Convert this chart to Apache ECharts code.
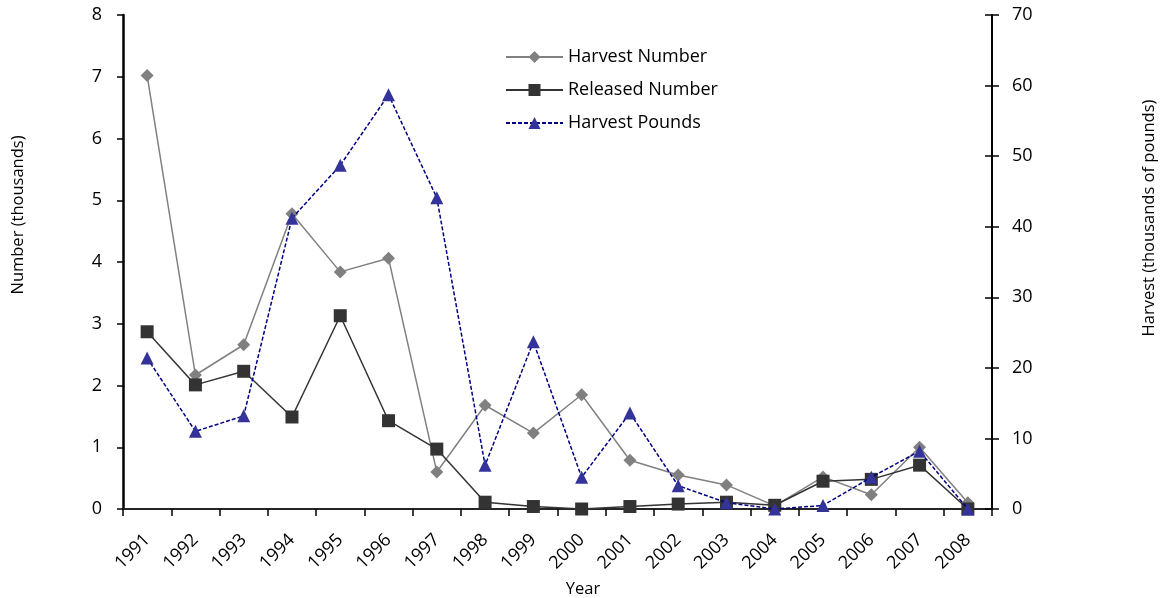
<!DOCTYPE html>
<html>
<head>
<meta charset="utf-8">
<title>Harvest and Release, 1991-2008</title>
<script src="https://cdn.jsdelivr.net/npm/echarts@6/dist/echarts.min.js"></script>
<style>
  html, body { margin: 0; padding: 0; background: #ffffff; }
  #chart { width: 1166px; height: 598px; }
</style>
</head>
<body>
<div id="chart"></div>
<script>
// Years on the category axis
const years = ['1991','1992','1993','1994','1995','1996','1997','1998','1999',
               '2000','2001','2002','2003','2004','2005','2006','2007','2008'];

// Fish harvested and released (thousands), left axis
const harvestNumber  = [7.02, 2.17, 2.66, 4.78, 3.84, 4.06, 0.60, 1.68, 1.23,
                        1.85, 0.79, 0.55, 0.39, 0.05, 0.52, 0.23, 1.00, 0.10];
const releasedNumber = [2.87, 2.01, 2.23, 1.49, 3.13, 1.43, 0.97, 0.11, 0.04,
                        0.00, 0.04, 0.08, 0.11, 0.06, 0.45, 0.48, 0.71, 0.00];

// Harvest weight (thousands of pounds), right axis
const harvestPounds  = [21.4, 11.0, 13.2, 41.2, 48.7, 58.7, 44.1, 6.2, 23.7,
                        4.5, 13.6, 3.3, 0.9, 0.0, 0.5, 4.5, 8.2, 0.0];

const FONT = 'Open Sans';
const chart = echarts.init(document.getElementById('chart'), null, { renderer: 'canvas' });

chart.setOption({
  animation: false,
  backgroundColor: '#ffffff',
  textStyle: { fontFamily: FONT, color: '#000000' },
  grid: { left: 123, right: 174, top: 15, bottom: 89, containLabel: false },
  legend: {
    orient: 'vertical',
    left: 500,
    top: 41,
    itemWidth: 57,
    itemHeight: 15,
    itemGap: 11,
    textStyle: { fontFamily: FONT, fontSize: 18, color: '#000000', lineHeight: 22 },
    data: ['Harvest Number', 'Released Number', 'Harvest Pounds']
  },
  xAxis: [{
    type: 'category',
    data: years,
    boundaryGap: true,
    axisLine: { show: true, lineStyle: { color: '#000000', width: 2 } },
    axisTick: { show: true, inside: false, length: 7, lineStyle: { color: '#000000', width: 1.5 } },
    axisLabel: { rotate: 45, margin: 28, fontSize: 18, fontFamily: FONT, color: '#000000' },
    splitLine: { show: false }
  }, {
    // plain rule along the top of the plot
    type: 'category',
    data: years,
    position: 'top',
    axisLine: { show: true, lineStyle: { color: '#333333', width: 1.5 } },
    axisTick: { show: false },
    axisLabel: { show: false },
    splitLine: { show: false }
  }],
  yAxis: [{
    type: 'value',
    position: 'left',
    min: 0, max: 8, interval: 1,
    axisLine: { show: true, lineStyle: { color: '#000000', width: 2.5 } },
    axisTick: { show: true, inside: false, length: 6, lineStyle: { color: '#000000', width: 1.5 } },
    axisLabel: { margin: 21, fontSize: 18, fontFamily: FONT, color: '#000000' },
    splitLine: { show: false }
  }, {
    type: 'value',
    position: 'right',
    min: 0, max: 70, interval: 10,
    axisLine: { show: true, lineStyle: { color: '#000000', width: 2 } },
    axisTick: { show: true, inside: false, length: 7, lineStyle: { color: '#000000', width: 1.5 } },
    axisLabel: { margin: 20, fontSize: 18, fontFamily: FONT, color: '#000000' },
    splitLine: { show: false }
  }, {
    // inner half of the crossing ticks on the right axis
    type: 'value',
    position: 'right',
    min: 0, max: 70, interval: 10,
    axisLine: { show: false },
    axisTick: { show: true, inside: true, length: 7, lineStyle: { color: '#000000', width: 1.5 } },
    axisLabel: { show: false },
    splitLine: { show: false }
  }],
  series: [{
    name: 'Harvest Number',
    type: 'line',
    xAxisIndex: 0, yAxisIndex: 0,
    data: harvestNumber,
    symbol: 'diamond',
    symbolSize: 13,
    color: '#808080',
    itemStyle: { color: '#808080' },
    lineStyle: { color: '#808080', width: 1.5 },
    z: 3
  }, {
    name: 'Released Number',
    type: 'line',
    xAxisIndex: 0, yAxisIndex: 0,
    data: releasedNumber,
    symbol: 'rect',
    symbolSize: 13,
    color: '#333333',
    itemStyle: { color: '#333333' },
    lineStyle: { color: '#333333', width: 1.5 },
    z: 4
  }, {
    name: 'Harvest Pounds',
    type: 'line',
    xAxisIndex: 0, yAxisIndex: 1,
    data: harvestPounds,
    symbol: 'triangle',
    symbolSize: 13,
    color: '#333399',
    itemStyle: { color: '#333399' },
    lineStyle: { color: '#000080', width: 1.5, type: [4, 2] },
    z: 5
  }],
  graphic: [{
    type: 'text',
    x: 18, y: 215,
    rotation: Math.PI / 2,
    style: { text: 'Number (thousands)', fontFamily: FONT, fontSize: 16.5, fill: '#000000',
             textAlign: 'center', textVerticalAlign: 'middle' }
  }, {
    type: 'text',
    x: 1149, y: 218,
    rotation: Math.PI / 2,
    style: { text: 'Harvest (thousands of pounds)', fontFamily: FONT, fontSize: 16.5, fill: '#000000',
             textAlign: 'center', textVerticalAlign: 'middle' }
  }, {
    type: 'text',
    x: 583, y: 589,
    style: { text: 'Year', fontFamily: FONT, fontSize: 16.5, fill: '#000000',
             textAlign: 'center', textVerticalAlign: 'middle' }
  }]
});
</script>
</body>
</html>
